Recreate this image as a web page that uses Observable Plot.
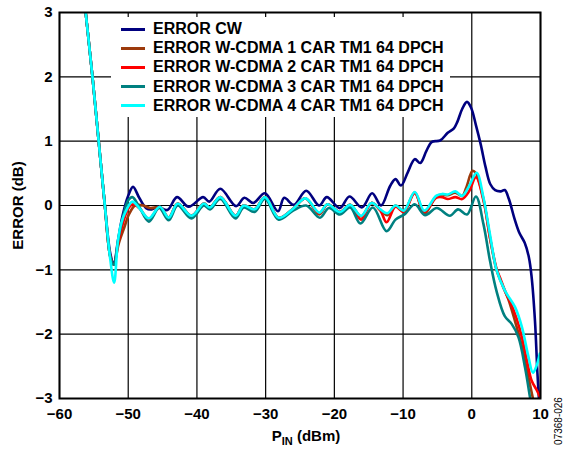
<!DOCTYPE html>
<html><head><meta charset="utf-8">
<script src="https://cdn.jsdelivr.net/npm/d3@7"></script>
<script src="https://cdn.jsdelivr.net/npm/@observablehq/plot@0.6"></script>
<style>
body{margin:0;background:#fff;}
#wrap{position:relative;width:566px;height:450px;font-family:"Liberation Sans",Arial,sans-serif;}
#legend{position:absolute;left:111px;top:17px;width:339px;height:100px;background:#fff;}
.row{position:absolute;left:0;height:20px;display:flex;align-items:center;font-weight:bold;font-size:16px;color:#000;white-space:nowrap;}
.sw{width:24px;height:3px;margin-left:10px;margin-right:8px;}
</style></head>
<body>
<div id="wrap"><div id="legend"></div></div>
<script>
const seriesNames = ["ERROR CW","ERROR W-CDMA 1 CAR TM1 64 DPCH","ERROR W-CDMA 2 CAR TM1 64 DPCH","ERROR W-CDMA 3 CAR TM1 64 DPCH","ERROR W-CDMA 4 CAR TM1 64 DPCH"];
const seriesColors = ["#00007f","#9c3a0c","#ff0000","#008080","#00ffff"];
const xTicks = [-60,-50,-40,-30,-20,-10,0,10];
const yTicks = [-3,-2,-1,0,1,2,3];

const cw = [[-56.8,3.6],[-55.2,2.0],[-54.3,1.0],[-53.4,0.0],[-52.6,-0.75],[-52.1,-0.92],[-51.5,-0.55],[-50.8,-0.15],[-50.0,0.15],[-49.3,0.29],[-48.4,0.12],[-47.4,-0.04],[-46.6,-0.06],[-45.7,-0.02],[-44.3,-0.07],[-42.9,0.13],[-41.2,-0.02],[-39.1,0.13],[-38.2,0.06],[-36.6,0.26],[-34.3,-0.01],[-33.1,0.12],[-31.8,0.04],[-30.1,0.19],[-28.2,-0.09],[-27.3,0.12],[-25.9,0.01],[-24.1,0.23],[-22.2,0.0],[-21.1,0.13],[-19.2,-0.04],[-17.8,0.14],[-16.0,-0.03],[-14.5,0.19],[-13.2,0.0],[-11.9,0.3],[-11.1,0.41],[-10.3,0.31],[-9.3,0.52],[-8.3,0.72],[-7.5,0.66],[-6.6,0.85],[-5.8,0.99],[-4.6,1.01],[-3.5,1.13],[-2.6,1.2],[-2.1,1.3],[-1.4,1.5],[-0.7,1.61],[-0.1,1.52],[0.6,1.25],[1.3,0.95],[2.0,0.6],[2.7,0.33],[3.4,0.24],[4.2,0.22],[4.8,0.24],[5.4,0.1],[6.2,-0.2],[6.9,-0.42],[7.7,-0.58],[8.3,-0.8],[8.7,-1.1],[9.2,-1.8],[9.55,-2.6],[9.8,-3.05]];

const car1 = [[-56.8,3.6],[-55.2,2.0],[-54.3,1.0],[-53.4,0.0],[-52.6,-0.8],[-52.1,-0.92],[-51.4,-0.6],[-50.6,-0.35],[-49.9,-0.14],[-49.0,0.0],[-47.8,0.0],[-46.8,-0.04],[-45.4,-0.03],[-44.1,-0.19],[-42.8,0.03],[-40.8,-0.16],[-39.0,0.03],[-38.1,-0.03],[-36.6,0.13],[-34.4,-0.16],[-33.2,0.0],[-31.6,-0.06],[-30.1,0.13],[-28.1,-0.19],[-26.0,-0.05],[-24.2,0.11],[-22.2,-0.14],[-21.0,0.02],[-19.2,-0.1],[-17.7,0.01],[-16.1,-0.17],[-14.6,0.04],[-13.3,-0.07],[-12.3,-0.15],[-11.1,0.0],[-9.9,-0.09],[-8.3,0.2],[-6.9,-0.13],[-5.2,0.14],[-4.3,0.17],[-3.5,0.16],[-2.4,0.2],[-1.4,0.15],[-0.8,0.28],[0.1,0.54],[0.6,0.5],[1.7,0.1],[2.65,-0.5],[3.6,-1.0],[4.5,-1.25],[5.3,-1.45],[6.3,-1.8],[7.2,-2.15],[7.9,-2.5],[8.6,-2.85],[9.0,-3.05]];

const car2 = [[-56.8,3.6],[-55.2,2.0],[-54.3,1.0],[-53.4,0.0],[-52.6,-0.8],[-52.1,-0.92],[-51.4,-0.55],[-50.7,-0.25],[-50.0,-0.05],[-49.3,0.02],[-48.3,-0.05],[-47.0,-0.21],[-45.4,-0.02],[-44.1,-0.19],[-42.8,0.03],[-40.8,-0.16],[-39.0,0.03],[-38.1,-0.03],[-36.6,0.13],[-34.4,-0.16],[-33.2,0.0],[-31.6,-0.06],[-30.1,0.13],[-28.1,-0.19],[-26.0,-0.05],[-24.2,0.11],[-22.2,-0.12],[-21.0,0.02],[-19.2,-0.1],[-17.7,0.01],[-16.1,-0.22],[-14.6,0.04],[-13.3,-0.08],[-12.4,-0.26],[-11.1,-0.02],[-9.9,-0.1],[-8.3,0.19],[-6.9,-0.1],[-5.2,0.12],[-4.3,0.13],[-3.5,0.1],[-2.4,0.13],[-1.4,0.1],[-0.4,0.22],[0.6,0.44],[1.7,0.08],[2.65,-0.5],[3.6,-0.98],[4.1,-1.12],[5.0,-1.37],[5.6,-1.5],[6.5,-1.75],[7.3,-2.05],[8.0,-2.4],[8.7,-2.72],[9.4,-2.86],[9.9,-2.97]];

const car3 = [[-56.8,3.6],[-55.2,2.0],[-54.3,1.0],[-53.4,0.0],[-52.6,-0.8],[-52.1,-0.92],[-51.4,-0.5],[-50.7,-0.15],[-50.0,0.08],[-49.4,0.13],[-48.5,0.0],[-47.0,-0.25],[-45.5,-0.04],[-44.1,-0.23],[-42.8,0.0],[-40.8,-0.2],[-39.0,0.0],[-38.1,-0.06],[-36.6,0.1],[-34.4,-0.2],[-33.2,-0.03],[-31.6,-0.1],[-30.1,0.1],[-28.1,-0.22],[-26.0,-0.08],[-24.1,0.0],[-22.1,-0.19],[-20.8,-0.04],[-19.2,-0.14],[-17.7,-0.03],[-16.2,-0.28],[-14.4,-0.03],[-12.4,-0.4],[-11.1,-0.22],[-9.7,-0.13],[-8.3,0.02],[-6.8,-0.15],[-5.1,-0.04],[-3.2,-0.16],[-2.0,-0.06],[-0.7,-0.14],[0.6,0.14],[1.7,-0.29],[2.65,-0.86],[3.6,-1.33],[4.8,-1.72],[5.8,-1.84],[6.8,-2.05],[7.75,-2.52],[8.5,-3.0],[8.8,-3.2]];

const car4 = [[-56.8,3.6],[-55.2,2.0],[-54.3,1.0],[-53.4,0.0],[-52.6,-0.85],[-52.05,-1.2],[-51.5,-0.55],[-51.0,-0.27],[-50.4,-0.1],[-49.4,0.06],[-48.3,-0.05],[-47.0,-0.2],[-45.4,-0.02],[-44.1,-0.19],[-42.8,0.03],[-40.8,-0.16],[-39.0,0.03],[-38.1,-0.03],[-36.6,0.13],[-34.4,-0.16],[-33.2,0.0],[-31.6,-0.06],[-30.1,0.13],[-28.1,-0.19],[-26.0,-0.05],[-24.2,0.11],[-22.2,-0.11],[-21.0,0.02],[-19.2,-0.1],[-17.7,0.01],[-16.1,-0.16],[-14.6,0.04],[-13.3,-0.06],[-12.3,-0.12],[-11.1,0.0],[-9.9,-0.08],[-8.3,0.21],[-6.9,-0.08],[-5.2,0.15],[-4.3,0.18],[-3.5,0.17],[-2.4,0.22],[-1.4,0.15],[-0.4,0.3],[0.7,0.51],[1.7,0.12],[2.65,-0.45],[3.6,-1.0],[4.8,-1.32],[6.3,-1.58],[7.3,-1.89],[8.2,-2.33],[8.9,-2.6],[9.4,-2.5],[9.9,-2.3]];

const seriesData = [cw, car1, car2, car3, car4];

const fmt = d => (d < 0 ? "\u2212" + Math.abs(d) : String(d));

const lineMarks = seriesData.map((pts, i) =>
  Plot.line(pts, {x: d => d[0], y: d => d[1], stroke: seriesColors[i], strokeWidth: 2.6, curve: "catmull-rom", clip: true})
);

const chart = Plot.plot({
  width: 566, height: 450,
  marginLeft: 59, marginRight: 26, marginTop: 12, marginBottom: 52,
  style: {fontFamily: "'Liberation Sans', Arial, sans-serif", fontSize: "15px", fontWeight: "bold", color: "#000", background: "#fff"},
  x: {domain: [-60, 10]},
  y: {domain: [-3, 3]},
  marks: [
    Plot.gridX(xTicks, {stroke: "#000", strokeOpacity: 1, strokeWidth: 1.2}),
    Plot.gridY(yTicks, {stroke: "#000", strokeOpacity: 1, strokeWidth: 1.2}),
    ...lineMarks,
    Plot.frame({stroke: "#000", strokeWidth: 2}),
    Plot.axisX(xTicks, {tickSize: 0, tickPadding: 10, tickFormat: fmt, label: null}),
    Plot.axisY(yTicks, {tickSize: 0, tickPadding: 7, tickFormat: fmt, label: "ERROR (dB)", labelAnchor: "center", labelOffset: 47, labelArrow: "none"})
  ]
});

const svg = d3.select(chart);
const xl = svg.append("text").attr("x", 306).attr("y", 441).attr("text-anchor", "middle")
  .style("font-family", "'Liberation Sans', Arial, sans-serif").style("font-weight", "bold").style("font-size", "15px").attr("fill", "#000");
xl.append("tspan").text("P");
xl.append("tspan").attr("dy", 4).style("font-size", "11px").text("IN");
xl.append("tspan").attr("dy", -4).text(" (dBm)");
svg.append("text").attr("transform", "translate(562,421) rotate(-90)").attr("text-anchor", "middle")
  .style("font-family", "'Liberation Sans', Arial, sans-serif").style("font-weight", "normal").style("font-size", "10px").attr("fill", "#000").text("07368-026");

const wrap = document.getElementById("wrap");
wrap.insertBefore(chart, wrap.firstChild);
chart.style.position = "absolute"; chart.style.left = "0"; chart.style.top = "0";

const legend = document.getElementById("legend");
seriesNames.forEach((name, i) => {
  const row = document.createElement("div");
  row.className = "row";
  row.style.top = (2 + i * 19.2) + "px";
  const sw = document.createElement("div");
  sw.className = "sw"; sw.style.background = seriesColors[i];
  const t = document.createElement("span"); t.textContent = name;
  row.appendChild(sw); row.appendChild(t);
  legend.appendChild(row);
});
</script>
</body></html>
